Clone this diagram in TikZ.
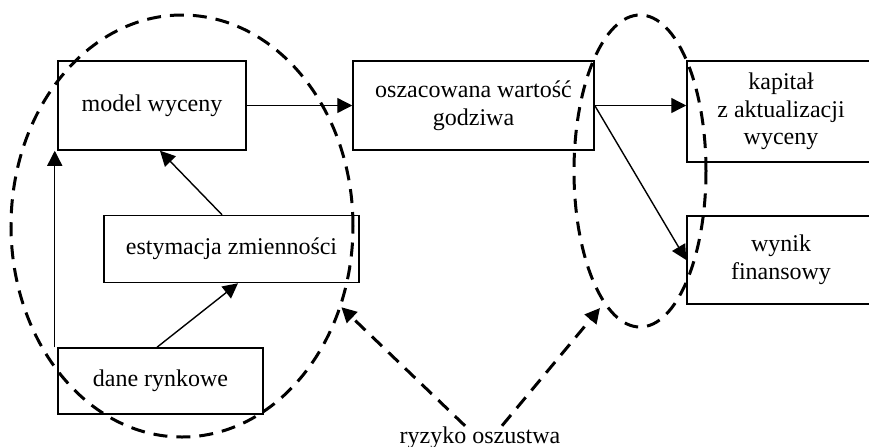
\documentclass[tikz,border=0pt]{standalone}
\usepackage{fontspec}
\setmainfont{Liberation Serif}
\usetikzlibrary{arrows.meta}
\usetikzlibrary{shapes.geometric}

\begin{document}
\begin{tikzpicture}[x=0.5pt,y=-0.5pt,->,>={Triangle[length=7.5pt,width=7.5pt]},
    font=\fontsize{12}{13.75}\selectfont,
    box node/.style={rectangle,draw,line width=0.75pt,align=center,inner sep=0pt},
    risk oval/.style={ellipse,draw,line width=1.5pt,dash pattern=on 7pt off 4.5pt,inner sep=0pt},
    risk line/.style={line width=1.5pt,dash pattern=on 7pt off 4.5pt}]
   \useasboundingbox (0,0) rectangle (869,446);
   % boxes
   \node[box node,minimum width=94pt,minimum height=44.5pt] (model) at (152,105.5) {model wyceny};
   \node[box node,minimum width=127.5pt,minimum height=33.5pt] (est) at (231.5,249) {estymacja zmienności};
   \node[box node,minimum width=102.5pt,minimum height=33pt] (dane) at (160.5,381) {dane rynkowe};
   \node[box node,minimum width=120.5pt,minimum height=44.5pt] (osz) at (473.5,105.5) {oszacowana wartość\\godziwa};
   \node[box node,minimum width=94pt,minimum height=50.5pt] (kap) at (781,111.5) {kapitał\\z aktualizacji\\wyceny};
   \node[box node,minimum width=94pt,minimum height=44pt] (wyn) at (781,260) {wynik\\finansowy};
   % risk areas
   \node[risk oval,minimum width=171pt,minimum height=211pt] (left oval) at (182,226) {};
   \node[risk oval,minimum width=66pt,minimum height=156pt] (right oval) at (640,171) {};
   \node[anchor=base] (ryz) at (480,443.5) {ryzyko oszustwa};
   \coordinate (tip right) at (600,308);
   % flows
   \path[line width=0.7pt] (model.east) edge (osz.west);
   \path[line width=0.7pt] (osz.east) edge (osz.east -| kap.west);
   \path[line width=0.7pt] (osz.east) edge (wyn.west);
   \path[line width=0.7pt] ([xshift=-4.75pt]est.north) edge ([xshift=4pt]model.south);
   \path[line width=0.7pt] ([xshift=-1.75pt]dane.north) edge ([xshift=3.25pt]est.south);
   \path[line width=0.7pt] ([xshift=-1.25pt]dane.north west) edge ([xshift=-1.25pt]model.south west);
   \path[risk line] ([xshift=-7.5pt,yshift=-3pt]ryz.north) edge (left oval.-27);
   \path[risk line] ([xshift=11pt,yshift=-3pt]ryz.north) edge (tip right);
\end{tikzpicture}
\end{document}
